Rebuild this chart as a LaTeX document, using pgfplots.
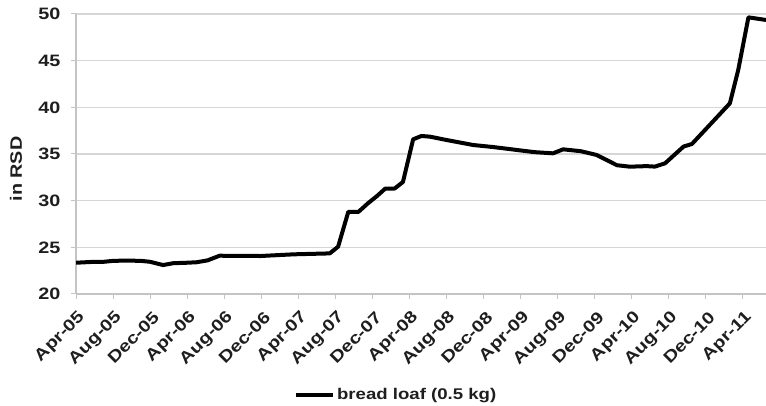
\documentclass[border=0pt]{standalone}
\usepackage{pgfplots}
\pgfplotsset{compat=1.18}
\usepackage{fontspec}
\setmainfont{Liberation Sans}[FakeStretch=1.2]
\definecolor{gridc}{HTML}{D6D6D6}
\definecolor{axc}{HTML}{C4C4C4}
\definecolor{txt}{HTML}{1E1E1E}
\newcommand{\lbl}{\fontsize{15.5}{15.5}\selectfont\bfseries}
\newcommand{\tlbl}{\fontsize{16.5}{16.5}\selectfont\bfseries}
\begin{document}
\begin{tikzpicture}[x=1pt,y=1pt]
\begin{axis}[
 at={(76pt,112pt)}, anchor=south west,
 scale only axis, width=690pt, height=280pt,
 xmin=0, xmax=74.5, ymin=20, ymax=50,
 axis lines*=left, axis line style={-, axc, line width=1.5pt},
 ytick={20,25,...,50}, ymajorgrids, grid style={gridc, line width=1.5pt},
 xtick={0,4,...,72},
 xticklabels={Apr-05,Aug-05,Dec-05,Apr-06,Aug-06,Dec-06,Apr-07,Aug-07,Dec-07,Apr-08,Aug-08,Dec-08,Apr-09,Aug-09,Dec-09,Apr-10,Aug-10,Dec-10,Apr-11},
 tick style={axc, line width=1pt}, tick align=outside, major tick length=5pt,
 x tick label style={xshift=7pt, yshift=-15pt, rotate=45, anchor=east, font=\tlbl, text=txt, inner sep=1pt},
 y tick label style={font=\tlbl, text=txt, xshift=-7pt},
 /pgf/number format/assume math mode=true,
 legend style={at={(0.464,-0.36)}, anchor=center, draw=none, font=\lbl, text=txt, fill=none},
 legend image code/.code={\draw[#1, line width=4pt] (0pt,0pt) -- (37pt,0pt);},
]
\addplot[black, line width=4pt, line join=round] coordinates {
(0,23.35) (1,23.4) (2,23.45) (3,23.45) (4,23.55) (5,23.57) (6,23.57) (7,23.55) (8,23.45)
(9.4,23.1) (10.5,23.3) (12,23.35) (13,23.4) (14.2,23.6) (15.5,24.1) (19.9,24.07) (23.5,24.25)
(27.4,24.35) (28.3,25.07) (29.4,28.8) (30.5,28.8) (31.5,29.7) (32.5,30.5) (33.4,31.3) (34.4,31.3)
(35.3,32.0) (36.4,36.57) (37.3,36.93) (38.2,36.86) (40,36.5) (42.9,35.96) (45,35.75) (47.6,35.43)
(49.5,35.2) (51.5,35.07) (52.6,35.5) (54.5,35.3) (56.2,34.9) (58.4,33.8) (59.8,33.64) (61.6,33.7)
(62.5,33.65) (63.6,34.0) (65.6,35.8) (66.5,36.07) (68.6,38.3) (70.6,40.43) (71.5,44.0) (72.6,49.64)
(74.5,49.36)
};
\addlegendentry{bread loaf (0.5 kg)}
\end{axis}
\node[rotate=90, font=\fontsize{16.5}{16.5}\selectfont\bfseries, text=txt] at (16pt,237pt) {in RSD};
\pgfresetboundingbox
\useasboundingbox (0,0) rectangle (766pt,406pt);
\end{tikzpicture}
\end{document}
